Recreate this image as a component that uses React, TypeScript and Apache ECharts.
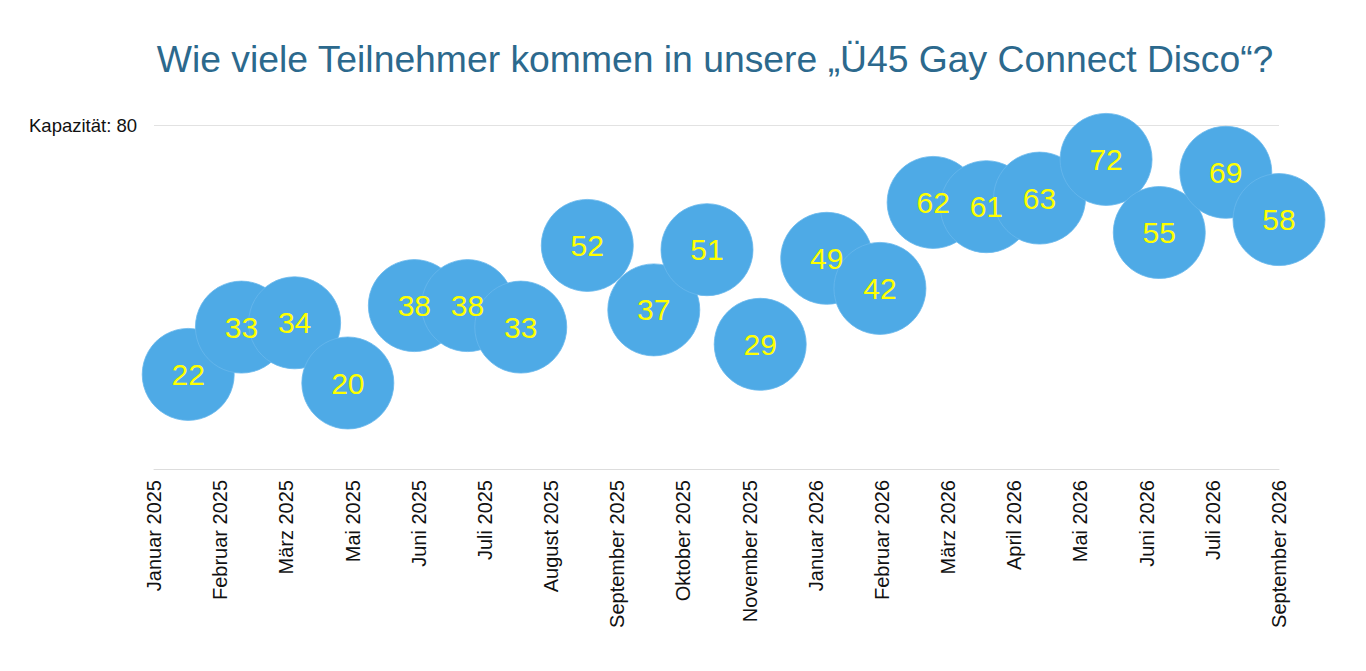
import React, { useEffect, useRef } from "react";
import * as echarts from "echarts";

const TITLE = "Wie viele Teilnehmer kommen in unsere „Ü45 Gay Connect Disco“?";
const AXIS_START = "2025-01-19";
const AXIS_END = "2026-09-03";
const TICK_LABELS = [
  "Januar 2025",
  "Februar 2025",
  "März 2025",
  "Mai 2025",
  "Juni 2025",
  "Juli 2025",
  "August 2025",
  "September 2025",
  "Oktober 2025",
  "November 2025",
  "Januar 2026",
  "Februar 2026",
  "März 2026",
  "April 2026",
  "Mai 2026",
  "Juni 2026",
  "Juli 2026",
  "September 2026",
];
const EVENT_DATES = [
  "2025-02-06",
  "2025-03-06",
  "2025-04-03",
  "2025-05-01",
  "2025-06-05",
  "2025-07-03",
  "2025-07-31",
  "2025-09-04",
  "2025-10-09",
  "2025-11-06",
  "2025-12-04",
  "2026-01-08",
  "2026-02-05",
  "2026-03-05",
  "2026-04-02",
  "2026-04-30",
  "2026-06-04",
  "2026-07-02",
  "2026-08-06",
  "2026-09-03",
];
const PARTICIPANTS = [22, 33, 34, 20, 38, 38, 33, 52, 37, 51, 29, 49, 42, 62, 61, 63, 72, 55, 69, 58];
const CAPACITY = 80;
const CAPACITY_LABEL = "Kapazität";

const FONT = "'Liberation Sans', Arial, Helvetica, sans-serif";
const DAY_MS = 86400000;
const toDays = (iso: string) =>
  (Date.parse(iso + "T00:00:00Z") - Date.parse(AXIS_START + "T00:00:00Z")) / DAY_MS;

export default function App() {
  const ref = useRef<HTMLDivElement>(null);

  useEffect(() => {
    if (!ref.current) return;
    const chart = echarts.init(ref.current, undefined, { renderer: "svg" });
    const span = toDays(AXIS_END);
    const step = span / (TICK_LABELS.length - 1);
    const data = EVENT_DATES.map((d, i) => [toDays(d), PARTICIPANTS[i]]);

    chart.setOption({
      animation: false,
      textStyle: { fontFamily: FONT },
      graphic: [
        {
          type: "text",
          x: 715,
          y: 59,
          style: {
            text: TITLE,
            fontSize: 37.3,
            fontFamily: FONT,
            fill: "#2c698d",
            textAlign: "center",
            textVerticalAlign: "middle",
          },
        },
      ],
      grid: { left: 154, right: 87, top: 125, bottom: 202, containLabel: false },
      xAxis: {
        type: "value",
        min: 0,
        max: span,
        interval: step,
        axisLine: { show: true, lineStyle: { color: "#dddddd", width: 1 } },
        axisTick: { show: false },
        splitLine: { show: false },
        axisLabel: {
          rotate: 90,
          fontSize: 20,
          fontFamily: FONT,
          color: "#111111",
          margin: 11,
          showMinLabel: true,
          showMaxLabel: true,
          formatter: (v: number) => TICK_LABELS[Math.round(v / step)] ?? "",
        },
      },
      yAxis: {
        type: "value",
        min: 0,
        max: CAPACITY,
        interval: CAPACITY,
        axisLine: { show: false },
        axisTick: { show: false },
        splitLine: { show: true, lineStyle: { color: "#e2e2e2", width: 1 } },
        axisLabel: {
          fontSize: 18.5,
          fontFamily: FONT,
          color: "#111111",
          margin: 17,
          formatter: (v: number) => (v === CAPACITY ? `${CAPACITY_LABEL}: ${v}` : ""),
        },
      },
      series: [
        {
          type: "scatter",
          symbol: "circle",
          symbolSize: 92,
          clip: false,
          data,
          itemStyle: { color: "#4eaae6", borderColor: "#68b8ec", borderWidth: 0.8, opacity: 1 },
          label: {
            show: true,
            position: "inside",
            formatter: (p: any) => String(p.value[1]),
            color: "#ffff00",
            fontSize: 30,
            fontFamily: FONT,
          },
          emphasis: { disabled: true },
        },
      ],
    });

    return () => chart.dispose();
  }, []);

  return (
    <div
      ref={ref}
      style={{ position: "fixed", left: 0, top: 0, width: 1366, height: 671, background: "#ffffff" }}
    />
  );
}
